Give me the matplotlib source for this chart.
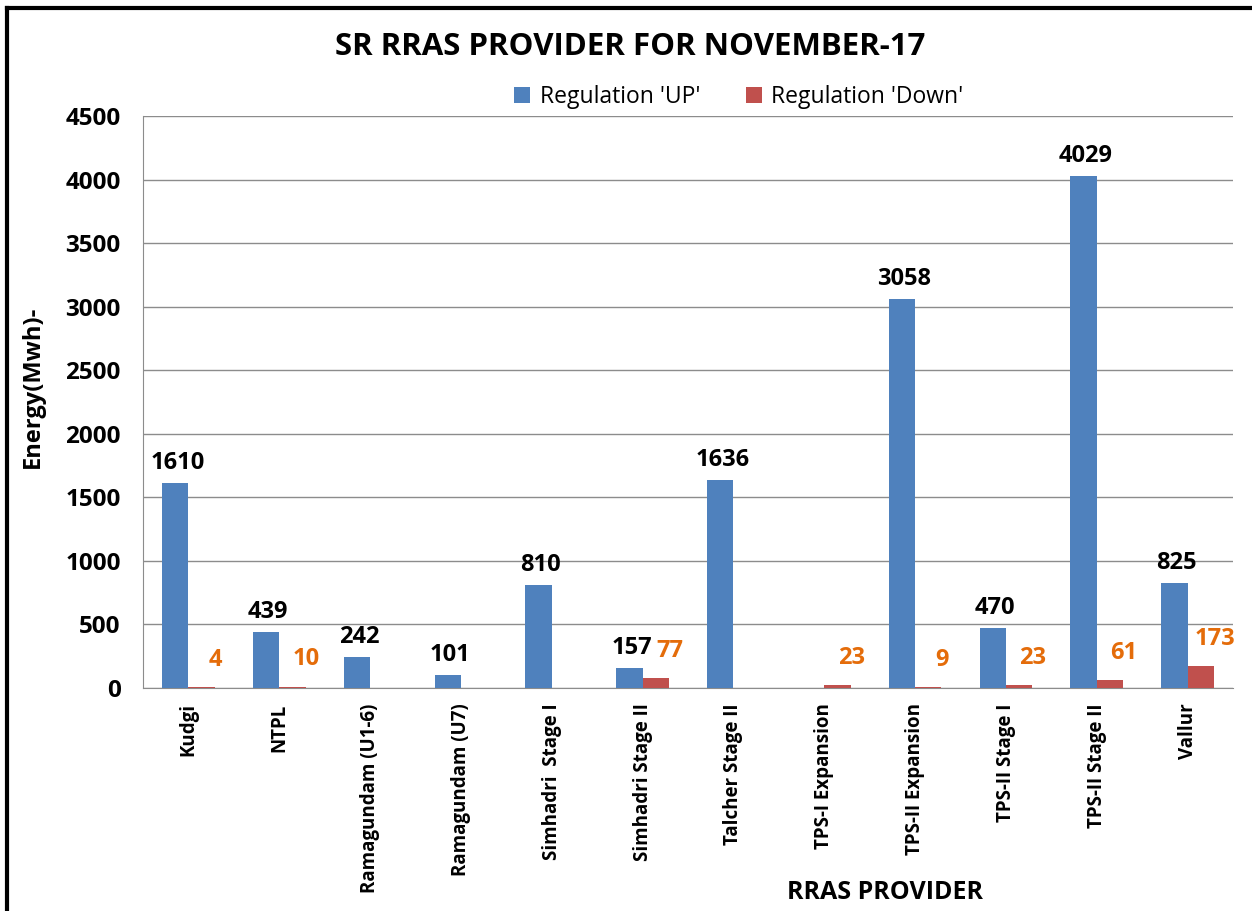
import matplotlib.pyplot as plt
import numpy as np
from matplotlib.lines import Line2D

plt.rcParams['font.family'] = ['Open Sans', 'DejaVu Sans']

providers = ['Kudgi', 'NTPL', 'Ramagundam (U1-6)', 'Ramagundam (U7)',
             'Simhadri  Stage I', 'Simhadri Stage II', 'Talcher Stage II',
             'TPS-I Expansion', 'TPS-II Expansion', 'TPS-II Stage I',
             'TPS-II Stage II', 'Vallur']
reg_up = [1610, 439, 242, 101, 810, 157, 1636, 0, 3058, 470, 4029, 825]
reg_down = [4, 10, 0, 0, 0, 77, 0, 23, 9, 23, 61, 173]

blue = '#4F81BD'
red = '#C0504D'
orange = '#E46C0A'
grid_col = '#8C8C8C'

fig = plt.figure(figsize=(12.52, 9.11), dpi=100)
ax = fig.add_axes([0.1142, 0.2448, 0.8706, 0.6279])

x = np.arange(len(providers))
w = 0.29
b1 = ax.bar(x - w / 2, reg_up, w, color=blue, label="Regulation 'UP'", zorder=3)
b2 = ax.bar(x + w / 2, reg_down, w, color=red, label="Regulation 'Down'", zorder=3)

# data labels, skip zero values
for rect, v in zip(b1, reg_up):
    if v:
        ax.annotate(str(v), (rect.get_x() + rect.get_width() / 2, v),
                    xytext=(1.5, 6), textcoords='offset points', ha='center', va='bottom',
                    fontsize=17, fontweight='bold', color='black')
for rect, v in zip(b2, reg_down):
    if v:
        ax.annotate(str(v), (rect.get_x() + rect.get_width() / 2, v),
                    xytext=(10, 11), textcoords='offset points', ha='center', va='bottom',
                    fontsize=17, fontweight='bold', color=orange)

ax.set_ylim(0, 4500)
ax.set_yticks(range(0, 4501, 500))
ax.set_xlim(-0.5, len(providers) - 0.5)
ax.set_xticks(x)
ax.set_xticklabels(providers, rotation=90, fontsize=13.5, fontweight='bold')
for lbl in ax.get_yticklabels():
    lbl.set_fontweight('bold')
ax.tick_params(axis='y', length=0, pad=16, labelsize=17.5)
ax.tick_params(axis='x', length=0, pad=11)
ax.grid(True, axis='y', color=grid_col, linewidth=1, zorder=0)
ax.spines['top'].set_visible(False)
ax.spines['right'].set_visible(False)
ax.spines['left'].set_color(grid_col)
ax.spines['bottom'].set_color(grid_col)

fig.text(0.503, 0.948, 'SR RRAS PROVIDER FOR NOVEMBER-17', ha='center', va='center',
         fontsize=22.5, fontweight='bold')
fig.text(0.026, 0.575, 'Energy(Mwh)-', rotation=90, ha='center', va='center',
         fontsize=17, fontweight='bold')
fig.text(0.707, 0.02, 'RRAS PROVIDER', ha='center', va='center',
         fontsize=18, fontweight='bold')

fig.legend(loc='center', bbox_to_anchor=(0.59, 0.894), ncol=2, frameon=False,
           fontsize=16.5, handlelength=0.7, handleheight=0.7, columnspacing=2.0,
           handletextpad=0.4)

# outer chart border
fig.add_artist(Line2D([0.0056, 0.0056], [0.0, 0.9912], color='black', linewidth=3))
fig.add_artist(Line2D([0.0056, 1.0], [0.9912, 0.9912], color='black', linewidth=3))

fig.savefig('out.png', dpi=100, facecolor='white')
